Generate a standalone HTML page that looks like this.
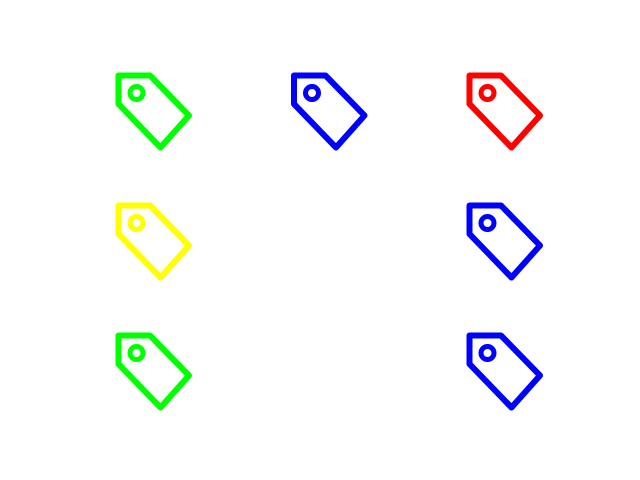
<!DOCTYPE html>
<html><head><meta charset="utf-8"><style>html,body{margin:0;padding:0;background:#fff}svg{display:block}</style></head>
<body>
<svg id="chart" width="640" height="480" viewBox="0 0 640 480" xmlns="http://www.w3.org/2000/svg"></svg>
<script>
const cols = [0, 1, 2, 0, 2, 0, 2];
const rows = [0, 0, 0, 1, 1, 2, 2];
const colors = ['#00ff00', '#0000ff', '#ff0000', '#ffff00', '#0000ff', '#00ff00', '#0000ff'];
const xOf = c => 116 + c * 175.5;
const yOf = r => 73 + r * 130;
const NS = 'http://www.w3.org/2000/svg';
const svg = document.getElementById('chart');
for (let i = 0; i < cols.length; i++) {
  const g = document.createElementNS(NS, 'g');
  
  
  g.setAttribute('transform', `translate(${xOf(cols[i])},${yOf(rows[i])})`);
  const p = document.createElementNS(NS, 'path');
  
  
  p.setAttribute('d', 'M2.5,2.5 L34,2.5 L73,42.5 L44.5,74.5 L2.5,31 Z');
  p.setAttribute('fill', 'none');
  p.setAttribute('stroke', colors[i]);
  p.setAttribute('stroke-width', '6');
  p.setAttribute('stroke-linejoin', 'round');
  g.appendChild(p);
  const c = document.createElementNS(NS, 'circle');
  
  
  c.setAttribute('cx', '20.5');
  c.setAttribute('cy', '20');
  c.setAttribute('r', '6.5');
  c.setAttribute('fill', 'none');
  c.setAttribute('stroke', colors[i]);
  c.setAttribute('stroke-width', '5');
  g.appendChild(c);
  svg.appendChild(g);
}
</script>
</body></html>
